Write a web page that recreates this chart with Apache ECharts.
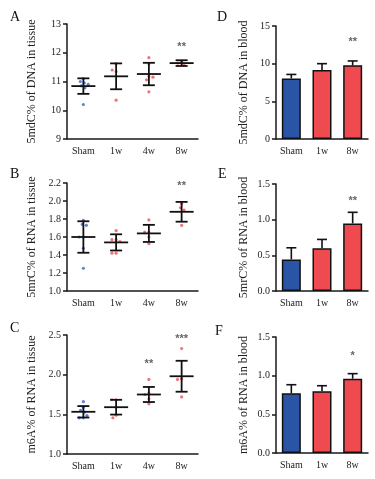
<!DOCTYPE html>
<html>
<head>
<meta charset="utf-8">
<script src="https://cdn.jsdelivr.net/npm/echarts@6/dist/echarts.min.js"></script>
<style>
  html, body { margin: 0; padding: 0; background: #fff; }
  #main { width: 375px; height: 479px; }
</style>
</head>
<body>
<div id="main"></div>
<script>
// groups
const tissueGroups = ['Sham', '1w', '4w', '8w'];
const bloodGroups = ['Sham', '1w', '8w'];

// A: 5mdC% of DNA in tissue
const dnaTissuePts = [
  [11.1, 11.0, 10.95, 10.9, 10.85, 10.78, 10.2],
  [11.62, 11.35, 11.4, 10.35],
  [11.83, 11.62, 11.18, 11.06, 11.15, 10.64],
  [11.7, 11.64, 11.58]
];
const dnaTissueMean = [10.84, 11.18, 11.26, 11.64];
const dnaTissueSd = [0.27, 0.45, 0.39, 0.1];
const dnaTissueStars = [['8w', 12.3, '**']];

// B: 5mrC% of RNA in tissue
const rnaTissuePts = [
  [1.785, 1.74, 1.73, 1.6, 1.6, 1.475, 1.253],
  [1.67, 1.57, 1.57, 1.55, 1.42, 1.42],
  [1.79, 1.655, 1.655, 1.6, 1.526],
  [1.97, 1.925, 1.9, 1.73]
];
const rnaTissueMean = [1.60, 1.54, 1.64, 1.88];
const rnaTissueSd = [0.175, 0.09, 0.095, 0.11];
const rnaTissueStars = [['8w', 2.2, '**']];

// C: m6A% of RNA in tissue
const m6aTissuePts = [
  [1.66, 1.59, 1.55, 1.527, 1.456, 1.456, 1.485],
  [1.684, 1.684, 1.59, 1.49, 1.456],
  [1.94, 1.77, 1.75, 1.696, 1.633],
  [2.33, 1.95, 1.94, 1.72]
];
const m6aTissueMean = [1.532, 1.59, 1.75, 1.98];
const m6aTissueSd = [0.072, 0.093, 0.095, 0.195];
const m6aTissueStars = [['4w', 2.17, '**'], ['8w', 2.49, '***']];

// D/E/F: blood
const dnaBloodMean = [8.04, 9.15, 9.78];
const dnaBloodErr = [0.53, 0.85, 0.58];
const dnaBloodStars = [['8w', 13.3, '**']];

const rnaBloodMean = [0.443, 0.598, 0.948];
const rnaBloodErr = [0.163, 0.125, 0.155];
const rnaBloodStars = [['8w', 1.31, '**']];

const m6aBloodMean = [0.773, 0.80, 0.961];
const m6aBloodErr = [0.11, 0.07, 0.065];
const m6aBloodStars = [['8w', 1.29, '*']];

const blue = '#2a55a6';
const red = '#ee4a50';
const dotBlue = '#3e62c4';
const dotRed = '#ec5055';
const serif = 'Liberation Serif';

var chartDom = document.getElementById('main');
var myChart = echarts.init(chartDom, null, { renderer: 'canvas' });

const grids = [];
const xAxes = [];
const yAxes = [];
const series = [];

function addAxes(box, cats, yMin, yMax, yInt, yName, nameGap, jitter) {
  const i = grids.length;
  grids.push(box);
  xAxes.push({
    type: 'category', gridIndex: i, data: cats,
    jitter: jitter || 0, jitterOverlap: false, jitterMargin: 1,
    axisLine: { lineStyle: { color: '#1a1a1a', width: 1.5 } },
    axisTick: { alignWithLabel: true, length: 4, lineStyle: { color: '#1a1a1a', width: 1.5 } },
    axisLabel: { color: '#1a1a1a', fontFamily: serif, fontSize: 10, margin: 7, interval: 0 },
    splitLine: { show: false }
  });
  yAxes.push({
    type: 'value', gridIndex: i, min: yMin, max: yMax, interval: yInt,
    name: yName, nameLocation: 'middle', nameGap: nameGap,
    nameTextStyle: { fontFamily: serif, fontSize: 12, color: '#222' },
    axisLine: { show: true, lineStyle: { color: '#1a1a1a', width: 1.5 } },
    axisTick: { show: true, length: 4, lineStyle: { color: '#1a1a1a', width: 1.5 } },
    axisLabel: {
      color: '#222', fontFamily: serif, fontSize: 10, margin: 6,
      formatter: v => (yInt < 1 ? v.toFixed(1) : String(v))
    },
    splitLine: { show: false }
  });
  return i;
}

function addStars(i, cats, stars) {
  series.push({
    type: 'custom', xAxisIndex: i, yAxisIndex: i, silent: true,
    data: stars.map(s => [cats.indexOf(s[0]), s[1], s[2]]),
    renderItem: function (params, api) {
      const p = api.coord([api.value(0), api.value(1)]);
      const txt = stars[params.dataIndex][2];
      return {
        type: 'text',
        style: { x: p[0], y: p[1] + 3, text: txt, fill: '#666', font: 'bold 11px sans-serif', align: 'center', verticalAlign: 'middle' }
      };
    }
  });
}

function scatterPanel(box, pts, mean, sd, stars, yMin, yMax, yInt, yName) {
  const i = addAxes(box, tissueGroups, yMin, yMax, yInt, yName, 29, 16);
  const data = [];
  pts.forEach((arr, g) => arr.forEach(v => data.push({
    value: [g, v], itemStyle: { color: g === 0 ? dotBlue : dotRed }
  })));
  series.push({
    type: 'scatter', xAxisIndex: i, yAxisIndex: i, symbolSize: 3.2, data: data, z: 2
  });
  series.push({
    type: 'custom', xAxisIndex: i, yAxisIndex: i, z: 3,
    data: mean.map((m, g) => [g, m, sd[g]]),
    renderItem: function (params, api) {
      const g = api.value(0), m = api.value(1), s = api.value(2);
      const c = api.coord([g, m]);
      const hi = api.coord([g, m + s]);
      const lo = api.coord([g, m - s]);
      const st = { stroke: '#111', lineWidth: 1.8 };
      return {
        type: 'group', children: [
          { type: 'line', shape: { x1: c[0] - 12, y1: c[1], x2: c[0] + 12, y2: c[1] }, style: st },
          { type: 'line', shape: { x1: c[0], y1: hi[1], x2: c[0], y2: lo[1] }, style: st },
          { type: 'line', shape: { x1: c[0] - 6, y1: hi[1], x2: c[0] + 6, y2: hi[1] }, style: st },
          { type: 'line', shape: { x1: c[0] - 6, y1: lo[1], x2: c[0] + 6, y2: lo[1] }, style: st }
        ]
      };
    }
  });
  addStars(i, tissueGroups, stars);
}

function barPanel(box, mean, err, stars, yMax, yInt, yName) {
  const i = addAxes(box, bloodGroups, 0, yMax, yInt, yName, 26, 0);
  series.push({
    type: 'bar', xAxisIndex: i, yAxisIndex: i, barWidth: 19, z: 2,
    data: mean.map((m, g) => ({
      value: m,
      itemStyle: { color: g === 0 ? blue : red, borderColor: '#111', borderWidth: 1.5 }
    }))
  });
  series.push({
    type: 'custom', xAxisIndex: i, yAxisIndex: i, z: 3,
    data: mean.map((m, g) => [g, m, err[g]]),
    renderItem: function (params, api) {
      const g = api.value(0), m = api.value(1), e = api.value(2);
      const c = api.coord([g, m]);
      const hi = api.coord([g, m + e]);
      const st = { stroke: '#111', lineWidth: 1.6 };
      return {
        type: 'group', children: [
          { type: 'line', shape: { x1: c[0], y1: c[1], x2: c[0], y2: hi[1] }, style: st },
          { type: 'line', shape: { x1: c[0] - 5, y1: hi[1], x2: c[0] + 5, y2: hi[1] }, style: st }
        ]
      };
    }
  });
  addStars(i, bloodGroups, stars);
}

scatterPanel({ left: 67, top: 24, width: 131, height: 115 }, dnaTissuePts, dnaTissueMean, dnaTissueSd, dnaTissueStars, 9, 13, 1, '5mdC% of DNA in tissue');
scatterPanel({ left: 67, top: 183, width: 131, height: 108 }, rnaTissuePts, rnaTissueMean, rnaTissueSd, rnaTissueStars, 1.0, 2.2, 0.2, '5mrC% of RNA in tissue');
scatterPanel({ left: 67, top: 335, width: 131, height: 119 }, m6aTissuePts, m6aTissueMean, m6aTissueSd, m6aTissueStars, 1.0, 2.5, 0.5, 'm6A% of RNA in tissue');
barPanel({ left: 276, top: 26, width: 92, height: 113 }, dnaBloodMean, dnaBloodErr, dnaBloodStars, 15, 5, '5mdC% of DNA in blood');
barPanel({ left: 276, top: 184, width: 92, height: 107 }, rnaBloodMean, rnaBloodErr, rnaBloodStars, 1.5, 0.5, '5mrC% of RNA in blood');
barPanel({ left: 276, top: 337, width: 92, height: 116 }, m6aBloodMean, m6aBloodErr, m6aBloodStars, 1.5, 0.5, 'm6A% of RNA in blood');

const letters = [['A', 15, 18], ['B', 15, 175], ['C', 15, 329], ['D', 222, 18], ['E', 223, 175], ['F', 220, 332]];

var option = {
  animation: false,
  backgroundColor: '#fff',
  grid: grids,
  xAxis: xAxes,
  yAxis: yAxes,
  series: series,
  graphic: letters.map(l => ({
    type: 'text', left: l[1] - 5, top: l[2] - 8,
    style: { text: l[0], font: '14px "Liberation Serif"', fill: '#111' }
  }))
};
option && myChart.setOption(option);
</script>
</body>
</html>
